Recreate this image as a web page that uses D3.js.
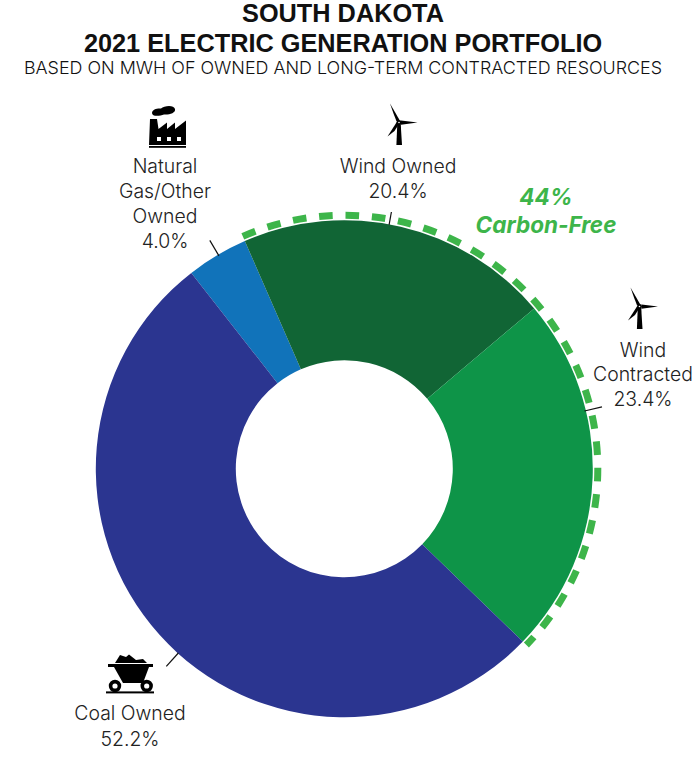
<!DOCTYPE html>
<html>
<head>
<meta charset="utf-8">
<script src="https://cdn.jsdelivr.net/npm/d3@7/dist/d3.min.js"></script>
<style>
html,body{margin:0;padding:0;background:#fff;}
svg{display:block;}
text{font-family:Inter,"Open Sans",sans-serif;}
</style>
</head>
<body>
<script>
// Generation mix, percent of MWh, clockwise from the gas slice
const categories = ["Natural Gas/Other Owned", "Wind Owned", "Wind Contracted", "Coal Owned"];
const shares = [4.0, 20.4, 23.4, 52.2];
const sliceColors = ["#1173ba", "#116535", "#0e9448", "#2b3590"];
const carbonFreeShare = 44;
const carbonFreeSlices = ["Wind Owned", "Wind Contracted"];

const width = 692, height = 757;
const cx = 344.3, cy = 468.7, outerR = 248.5, innerR = 108.5, ringR = 253.5;
const TAU = Math.PI * 2;
const startDeg = -38;   // where the gas slice begins, degrees clockwise from north

const svg = d3.select("body").append("svg").attr("width", width).attr("height", height);

// Headings
const heads = [
  {t: "SOUTH DAKOTA", y: 22, s: 25.3, w: 700, f: "'Liberation Sans',sans-serif"},
  {t: "2021 ELECTRIC GENERATION PORTFOLIO", y: 52, s: 25.3, w: 700, f: "'Liberation Sans',sans-serif"},
  {t: "BASED ON MWH OF OWNED AND LONG-TERM CONTRACTED RESOURCES", y: 74, s: 17.9, w: 300, f: "Inter,sans-serif"}
];
svg.selectAll("text.head").data(heads).join("text").attr("class", "head")
  .attr("x", 343).attr("y", d => d.y).attr("text-anchor", "middle").style("font-family", d => d.f)
  .attr("font-size", d => d.s).attr("font-weight", d => d.w).attr("fill", "#111").text(d => d.t);

// Donut
const pie = d3.pie().value(d => d.v).sort(null)
  .startAngle(startDeg / 360 * TAU).endAngle(startDeg / 360 * TAU + TAU);
const rows = categories.map((c, i) => ({c, v: shares[i], col: sliceColors[i]}));
const arcs = pie(rows);
const arc = d3.arc().innerRadius(innerR).outerRadius(outerR);
const g = svg.append("g").attr("transform", `translate(${cx},${cy})`);
g.selectAll("path.slice").data(arcs).join("path").attr("class", "slice")
  .attr("d", arc).attr("fill", d => d.data.col);

// Dashed ring around the carbon-free slices; a single open arc so the dashes stay regular
const free = arcs.filter(d => carbonFreeSlices.includes(d.data.c));
const ringPath = d3.path();
ringPath.arc(0, 0, ringR, free[0].startAngle - Math.PI / 2, free[free.length - 1].endAngle - Math.PI / 2);
g.append("path").attr("d", ringPath.toString()).attr("fill", "none").attr("stroke", "#3db54a")
  .attr("stroke-width", 7).attr("stroke-dasharray", "13.6 12.8");

// Leader lines, angles in degrees clockwise from north
const leaders = [
  {a: -30.5, r0: 247, r1: 265},
  {a: 10.4, r0: 248, r1: 261},
  {a: 76.5, r0: 247, r1: 265},
  {a: 222, r0: 248, r1: 266}
];
const polar = (deg, r) => {
  const t = deg / 360 * TAU;
  return [Math.sin(t) * r, -Math.cos(t) * r];
};
g.selectAll("line.leader").data(leaders).join("line").attr("class", "leader")
  .attr("x1", d => polar(d.a, d.r0)[0]).attr("y1", d => polar(d.a, d.r0)[1])
  .attr("x2", d => polar(d.a, d.r1)[0]).attr("y2", d => polar(d.a, d.r1)[1])
  .attr("stroke", "#111").attr("stroke-width", 1.2);

// Slice captions
const fmt = d3.format(".1f");
const captions = [
  {x: 165, ys: [173, 198, 223, 248], lines: ["Natural", "Gas/Other", "Owned", fmt(shares[0]) + "%"]},
  {x: 398, ys: [173, 198], lines: ["Wind Owned", fmt(shares[1]) + "%"]},
  {x: 643, ys: [357, 381, 406], lines: ["Wind", "Contracted", fmt(shares[2]) + "%"]},
  {x: 130, ys: [720, 746], lines: ["Coal Owned", fmt(shares[3]) + "%"]}
];
captions.forEach(c => c.lines.forEach((l, i) => {
  svg.append("text").attr("x", c.x).attr("y", c.ys[i]).attr("text-anchor", "middle")
    .attr("font-size", 19.4).attr("font-weight", 300).attr("fill", "#222").text(l);
}));

// Carbon-free callout
[[`${carbonFreeShare}%`, 205], ["Carbon-Free", 233]].forEach(([t, y]) => {
  svg.append("text").attr("x", 546).attr("y", y).attr("text-anchor", "middle")
    .attr("font-size", 22.5).attr("font-weight", 700).attr("font-style", "italic")
    .attr("fill", "#3db54a").text(t);
});

// Pictograms
function turbine(x, y) {
  const t = svg.append("g").attr("transform", `translate(${x},${y})`).attr("fill", "#000");
  t.append("path").attr("d", "M-1.7,1 L-2.6,22.5 L3,22.5 L1.7,1 Z");
  t.append("path").attr("d", "M0.8,-2 L-9,-19 L-5.5,-9 L-2.4,-1 Z");
  t.append("path").attr("d", "M2,-2 L18.5,0 L2,2.2 Z");
  t.append("path").attr("d", "M-2.2,-0.5 L-11.5,14 L-4.5,8.5 L-0.5,2.2 Z");
  t.append("circle").attr("r", 2.4);
  t.append("circle").attr("r", 0.8).attr("fill", "#fff");
}
turbine(399, 122.5);
turbine(639.5, 306.5);

const factory = svg.append("g").attr("transform", "translate(149,105)").attr("fill", "#000");
factory.append("path").attr("d", "M3,8 C3,4 9,3 12,3.5 C15,0.5 25,-0.5 26,4 C27,8 20,10 15,9.5 C11,11 3,12 3,8 Z");
factory.append("path").attr("d", "M1,14 L8,14 L9.5,24 L18,17.5 L18,24 L26,17.5 L26,24 L37,15.5 L37,40 L0,40 Z M8,32 L8,36 L12,36 L12,32 Z M18,32 L18,36 L22,36 L22,32 Z M28,32 L28,36 L32,36 L32,32 Z").attr("fill-rule", "evenodd");
factory.append("rect").attr("x", 0).attr("y", 41).attr("width", 37).attr("height", 1.8);

const cart = svg.append("g").attr("transform", "translate(106,654)").attr("fill", "#000");
cart.append("path").attr("d", "M9,9 L14,1 L20,3 L23,0.5 L30,6 L37,5 L41,9 Z");
cart.append("path").attr("d", "M2,10 L47,10 L47,13 L43,13 L37,29 L17,29 L8,13 L2,13 Z");
[9, 40.7].forEach(wx => {
  cart.append("circle").attr("cx", wx).attr("cy", 32).attr("r", 4.4)
    .attr("fill", "#fff").attr("stroke", "#000").attr("stroke-width", 3.6);
});
cart.append("rect").attr("x", 0).attr("y", 37.4).attr("width", 48).attr("height", 2);
</script>
</body>
</html>
